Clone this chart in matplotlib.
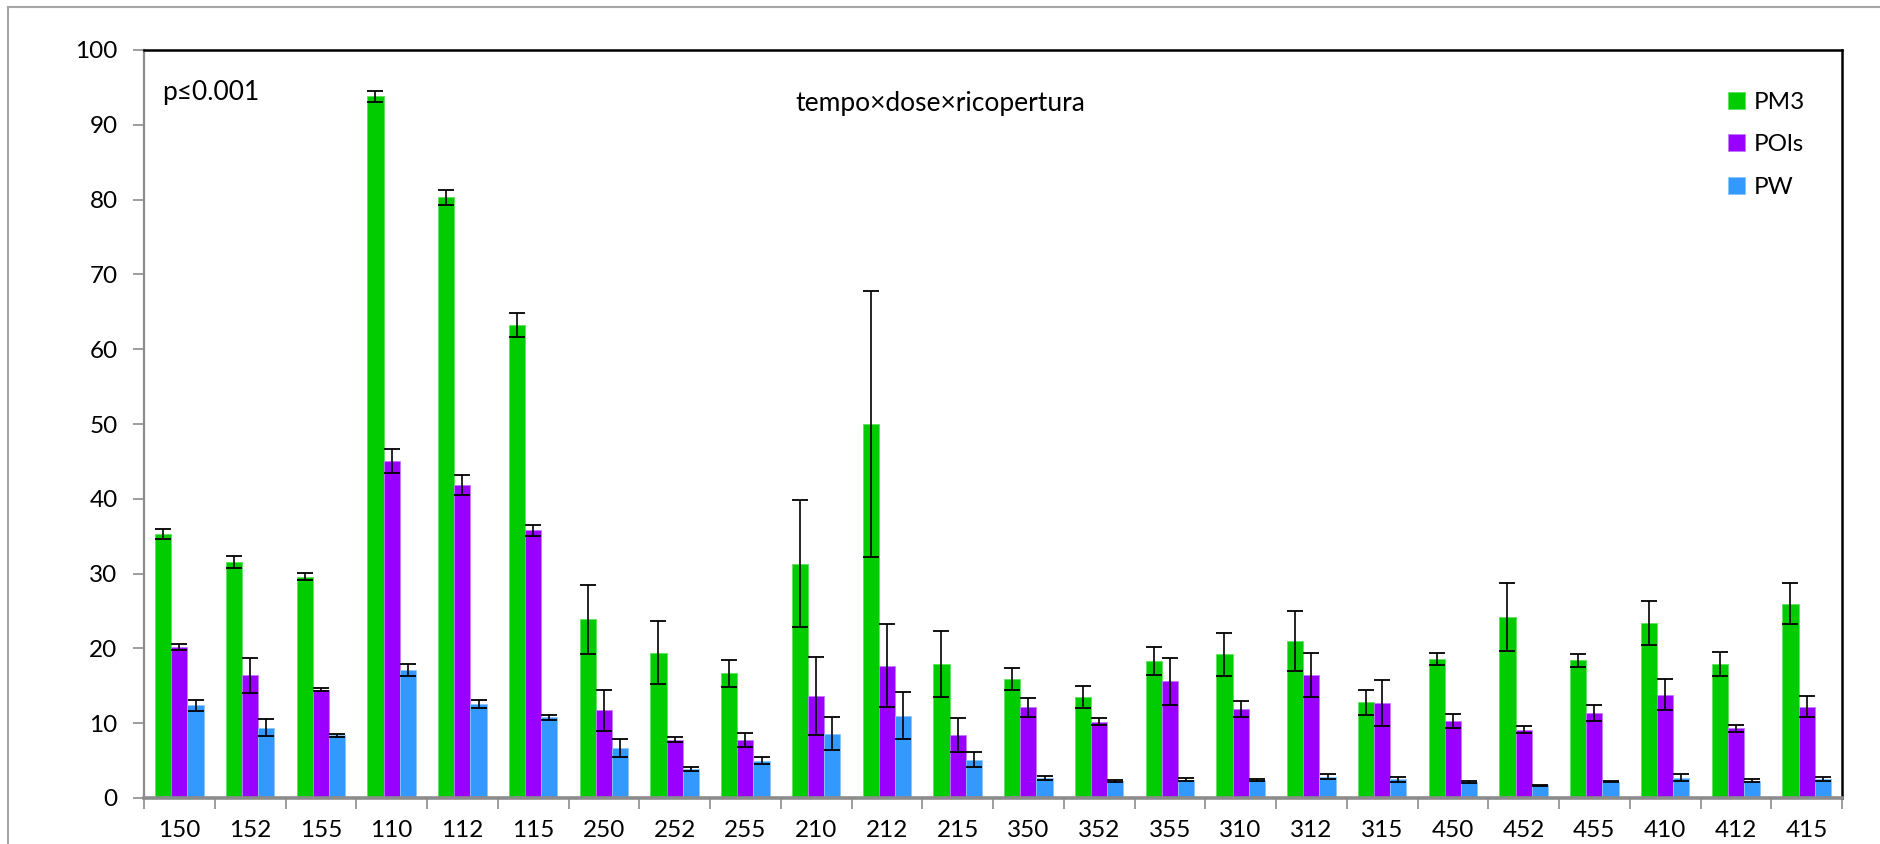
import numpy as np
import matplotlib
matplotlib.use("Agg")
import matplotlib.pyplot as plt
from matplotlib.lines import Line2D

plt.rcParams['font.family'] = ['Lato', 'DejaVu Sans']

categories = ["150", "152", "155", "110", "112", "115", "250", "252", "255",
              "210", "212", "215", "350", "352", "355", "310", "312", "315",
              "450", "452", "455", "410", "412", "415"]

pm3 = [35.3, 31.5, 29.6, 93.8, 80.3, 63.2, 23.9, 19.4, 16.7,
       31.3, 50.0, 17.9, 15.9, 13.5, 18.3, 19.2, 21.0, 12.8,
       18.6, 24.2, 18.4, 23.4, 17.9, 26.0]
pm3_err = [0.7, 0.8, 0.5, 0.7, 1.0, 1.6, 4.6, 4.2, 1.8,
           8.5, 17.8, 4.4, 1.45, 1.45, 1.9, 2.85, 4.05, 1.7,
           0.78, 4.5, 0.9, 2.95, 1.6, 2.7]

pols = [20.2, 16.4, 14.5, 45.1, 41.8, 35.8, 11.7, 7.8, 7.8,
        13.6, 17.7, 8.4, 12.1, 10.2, 15.6, 11.9, 16.4, 12.7,
        10.3, 9.1, 11.3, 13.8, 9.3, 12.2]
pols_err = [0.45, 2.3, 0.2, 1.6, 1.35, 0.75, 2.8, 0.3, 0.95,
            5.2, 5.6, 2.25, 1.25, 0.45, 3.1, 1.05, 2.95, 3.1,
            0.93, 0.47, 1.07, 2.1, 0.5, 1.4]

pw = [12.4, 9.4, 8.4, 17.1, 12.6, 10.8, 6.7, 3.9, 5.0,
      8.6, 11.0, 5.1, 2.7, 2.3, 2.45, 2.45, 2.85, 2.5,
      2.1, 1.7, 2.2, 2.7, 2.3, 2.5]
pw_err = [0.75, 1.15, 0.2, 0.75, 0.55, 0.35, 1.2, 0.3, 0.5,
          2.2, 3.15, 1.0, 0.3, 0.1, 0.2, 0.15, 0.3, 0.35,
          0.15, 0.05, 0.1, 0.45, 0.22, 0.28]

series_names = ["PM3", "POls", "PW"]
series_colors = ["#00CC00", "#9900FF", "#3399FF"]
edge_colors = ["#5CE35C", "#C27AFF", "#8CC4FF"]

fig = plt.figure(figsize=(18.8, 8.44), dpi=100)
ax = fig.add_axes([144 / 1880, 1 - 798 / 844, (1842 - 144) / 1880, (798 - 50) / 844])

# outer chart-area frame (only top and left edges are visible)
fig.add_artist(Line2D([8 / 1880, 1.0], [1 - 7 / 844, 1 - 7 / 844],
                      transform=fig.transFigure, color="#A6A6A6", lw=1.5))
fig.add_artist(Line2D([8 / 1880, 8 / 1880], [0, 1 - 7 / 844],
                      transform=fig.transFigure, color="#A6A6A6", lw=1.5))

x = np.arange(len(categories))
w = 0.228
for i, (vals, errs) in enumerate([(pm3, pm3_err), (pols, pols_err), (pw, pw_err)]):
    pos = x + (i - 1) * w
    ax.bar(pos, vals, width=w, color=series_colors[i], edgecolor=edge_colors[i],
           linewidth=0.6, label=series_names[i], zorder=2)
    ax.errorbar(pos, vals, yerr=errs, fmt="none", ecolor="black",
                elinewidth=1.2, capsize=5.5, capthick=1.3, zorder=3)

ax.set_xlim(-0.5, len(categories) - 0.5)
ax.set_ylim(0, 100)
ax.set_yticks(np.arange(0, 101, 10))
ax.set_xticks(x)
ax.set_xticklabels(categories)
ax.set_xticks(np.arange(-0.5, len(categories), 1.0), minor=True)

ax.tick_params(axis="x", which="major", length=0, pad=16, labelsize=17.5)
ax.tick_params(axis="x", which="minor", length=8, width=1.2, color="#8C8C8C", direction="out")
ax.tick_params(axis="y", which="major", length=8, width=1.2, color="#8C8C8C",
               direction="out", pad=11, labelsize=17.5)

ax.spines["left"].set_color("#8C8C8C")
ax.spines["left"].set_linewidth(1.6)
ax.spines["bottom"].set_color("#8C8C8C")
ax.spines["bottom"].set_linewidth(2.6)
ax.spines["top"].set_color("black")
ax.spines["top"].set_linewidth(1.8)
ax.spines["right"].set_color("black")
ax.spines["right"].set_linewidth(1.8)

ax.legend(loc="upper left", bbox_to_anchor=((1728 - 144) / (1842 - 144), 1 - (92 - 50) / (798 - 50)),
          frameon=False, fontsize=17.5, handlelength=0.7, handleheight=0.7,
          handletextpad=0.35, labelspacing=0.88, borderpad=0, borderaxespad=0)

fig.text(162 / 1880, 1 - 100 / 844, "p≤0.001", fontsize=19, va="baseline", ha="left")
fig.text(940 / 1880, 1 - 111 / 844, "tempo×dose×ricopertura", fontsize=19,
         va="baseline", ha="center")

fig.savefig("out.png", dpi=100)
